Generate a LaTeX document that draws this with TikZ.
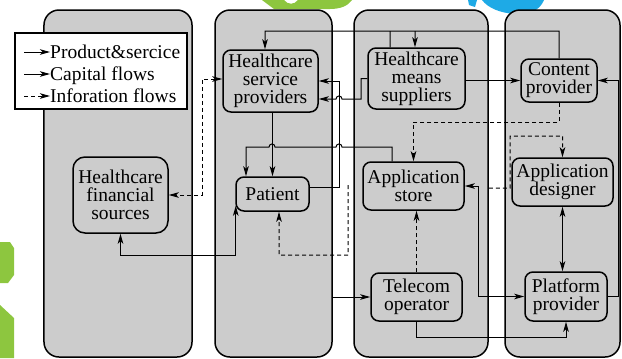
\documentclass[tikz,border=0pt]{standalone}
\usepackage{fontspec}
\setmainfont{Liberation Serif}
\newfontfamily\diagfont{Liberation Serif}
\usetikzlibrary{arrows.meta}
\definecolor{colgray}{RGB}{204,204,204}
\definecolor{wmgreen}{RGB}{141,198,63}
\definecolor{wmblue}{RGB}{30,170,230}
\tikzset{
  >={Stealth[length=10bp,width=5.5bp,inset=2.5bp]},
  colbox/.style={draw, line width=1.5bp, fill=colgray, rounded corners=15bp,
    minimum width=#1, minimum height=347bp, inner sep=0pt},
  ent/.style={draw, line width=1.5bp, fill=colgray, rounded corners=8bp,
    inner sep=0pt, align=center, font=\diagfont\fontsize{19.5bp}{18bp}\selectfont},
  lbl/.style={inner sep=0pt, font=\diagfont\fontsize{19.5bp}{18bp}\selectfont},
  conn/.style={line width=1bp},
  dsh/.style={line width=1bp, dash pattern=on 4bp off 3bp},
}
\begin{document}
\begin{tikzpicture}[x=1bp,y=-1bp]
\useasboundingbox (0,0) rectangle (622,358);
% background marks
\fill[wmgreen] (262,0) -- (284,0) .. controls (288,5) and (294,5) .. (298,0) -- (352,0)
   .. controls (348,6) and (340,9) .. (330,9) -- (274,9) -- cycle;
\fill[wmblue] (468,0) -- (477,0) -- (475,7) -- (469,5) -- cycle;
\fill[wmblue] (482,0) -- (544,0) .. controls (540,10) and (530,15) .. (515,14)
   .. controls (500,13) and (488,8) .. (482,0) -- cycle;
\fill[wmgreen] (0,242) -- (10,242) -- (14,248) -- (14,275) -- (8,283) -- (0,283) -- cycle;
\fill[wmgreen] (0,305) -- (14,318) -- (14,358) -- (0,358) -- cycle;
% columns
\node[colbox=148bp] (col1) at (118,183.5) {};
\node[colbox=117bp] (col2) at (273.5,183.5) {};
\node[colbox=134bp] (col3) at (421,183.5) {};
\node[colbox=115bp] (col4) at (562.5,183.5) {};
% entities
\node[ent, minimum width=95bp, minimum height=62bp] (hsp) at (270.5,81) {Healthcare\\service\\providers};
\node[ent, minimum width=97bp, minimum height=61bp] (hms) at (416.5,78.5) {Healthcare\\means\\suppliers};
\node[ent, minimum width=76bp, minimum height=43bp] (cp) at (559,80.5) {Content\\provider};
\node[ent, rounded corners=12bp, minimum width=95bp, minimum height=76bp] (hfs) at (120.5,195) {Healthcare\\financial\\sources};
\node[ent, minimum width=73bp, minimum height=34bp] (pat) at (272.5,194) {Patient};
\node[ent, minimum width=101bp, minimum height=48bp] (as) at (413.5,186) {Application\\store};
\node[ent, minimum width=101bp, minimum height=48bp] (ad) at (562.5,182) {Application\\designer};
\node[ent, minimum width=91bp, minimum height=48bp] (to) at (416.5,297) {Telecom\\operator};
\node[ent, minimum width=82bp, minimum height=49bp] (pp) at (566,296.5) {Platform\\provider};
% legend
\node[draw, fill=white, line width=1.2bp, minimum width=172bp, minimum height=76bp, inner sep=0pt] (leg) at (101,71) {};
\node[lbl, anchor=base west] (l1) at (50,58) {Product\&sercice};
\node[lbl, anchor=base west] (l2) at (50,80) {Capital flows};
\node[lbl, anchor=base west] (l3) at (50,102) {Inforation flows};
\coordinate (la) at (24,52);
\coordinate (lb) at (24,74);
\coordinate (lc) at (24,96);
\draw[conn,->] (la) -- (l1.west |- la);
\draw[conn,->] (lb) -- (l2.west |- lb);
\draw[dsh,->] (lc) -- (l3.west |- lc);
% connectors
\draw[conn,->] (cp.north) |- (265,31) -- ([xshift=-5.5bp]hsp.north);
\draw[conn,->] (415,31) -- ([xshift=-1.5bp]hms.north);
\draw[conn] ([xshift=-26.5bp]hms.north) -- (390,31);
\draw[conn,->] (hms.west) -| (361,99) -- (342,99) .. controls (342,95) and (336,95) .. (336,99) -- ([yshift=-18bp]hsp.east);
\draw[conn,->] ([yshift=7bp]pat.east) -| (339,81) -- (hsp.east);
\draw[conn,->] ([xshift=-21.5bp]as.north) |- (342,147) .. controls (342,143) and (336,143) .. (336,147) -- (275,147) .. controls (275,143) and (269,143) .. (269,147) -| ([xshift=-26.5bp]pat.north);
\draw[conn,->] (pat.north |- hsp.south) -- (pat.north);
\draw[dsh,<->] ([yshift=2bp]hsp.west) -| (202,195) -- (hfs.east);
\draw[conn,<->] ([xshift=0.5bp,yshift=6bp]pat.south west) |- (120.5,255) -- (hfs.south);
\coordinate (ifree) at (348,185);
\draw[dsh,->] (ifree) |- (279,255) -- ([xshift=6.5bp]pat.south);
\draw[dsh,->] (cp.south) |- (413.5,122) -- (as.north);
\draw[dsh,->] ([yshift=-4.5bp]col3.east) -- (510,188) |- (562.5,136) -- (ad.north);
\draw[conn,<->] (as.east) -| (478,296.5) -- (pp.west);
\draw[conn,<->] (ad.south) -- (ad.south |- pp.north);
\draw[conn,->] (pp.east) -| (618,80.5) -- (cp.east);
\draw[conn,->] (to.south) |- (566,337) -- (pp.south);
\draw[dsh,->] (to.north) -- (to.north |- as.south);
\draw[conn,->] (col2.east |- to.west) -- (to.west);
\draw[conn,->] (hms.east |- cp.west) -- (cp.west);
\end{tikzpicture}
\end{document}
